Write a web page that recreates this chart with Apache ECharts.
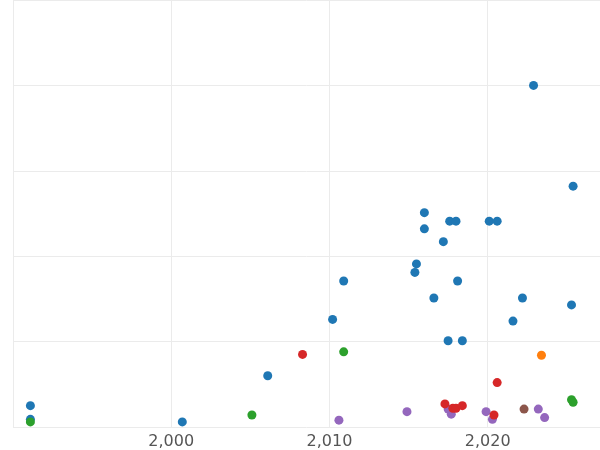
<!DOCTYPE html><html><head><meta charset="utf-8"><script src="https://cdn.jsdelivr.net/npm/echarts@6/dist/echarts.min.js"></script></head><body style="margin:0"><div id="c" style="width:600px;height:450px"></div><script>
const blue=[[1991.1,0.25],[1991.1,0.09],[2000.7,0.06],[2006.1,0.60],[2010.2,1.26],[2010.9,1.71],[2015.4,1.81],[2015.5,1.91],[2016.0,2.51],[2016.0,2.32],[2016.6,1.51],[2017.2,2.17],[2017.5,1.01],[2017.6,2.41],[2018.0,2.41],[2018.1,1.71],[2018.4,1.01],[2020.1,2.41],[2020.6,2.41],[2021.6,1.24],[2022.2,1.51],[2022.9,4.00],[2025.3,1.43],[2025.4,2.82]];
const orange=[[2023.4,0.84]];
const green=[[1991.1,0.06],[2005.1,0.14],[2010.9,0.88],[2025.3,0.32],[2025.4,0.29]];
const red=[[2008.3,0.85],[2017.3,0.27],[2017.8,0.22],[2018.0,0.22],[2018.4,0.25],[2020.4,0.14],[2020.6,0.52]];
const purple=[[2010.6,0.08],[2014.9,0.18],[2017.5,0.21],[2017.7,0.15],[2019.9,0.18],[2020.3,0.09],[2023.2,0.21],[2023.6,0.11]];
const brown=[[2022.3,0.21]];
const groups=[[blue,'#1f77b4'],[orange,'#ff7f0e'],[green,'#2ca02c'],[purple,'#9467bd'],[red,'#d62728'],[brown,'#8c564b']];
const ch=echarts.init(document.getElementById('c'));
ch.setOption({animation:false,grid:{left:13,right:0,top:0,bottom:23},
xAxis:{type:'value',min:1990,max:2027.1,interval:10,axisLine:{show:false},axisTick:{show:false},
axisLabel:{showMinLabel:false,showMaxLabel:false,color:'#555',fontSize:16,fontFamily:'DejaVu Sans',margin:7},
splitLine:{lineStyle:{color:'#ebebeb'}}},
yAxis:{type:'value',min:0,max:5,interval:1,axisLine:{show:false},axisTick:{show:false},axisLabel:{show:false},splitLine:{lineStyle:{color:'#ebebeb'}}},
series:groups.map(([d,c])=>({type:'scatter',data:d,symbolSize:9,itemStyle:{color:c,opacity:1}}))});
</script></body></html>
